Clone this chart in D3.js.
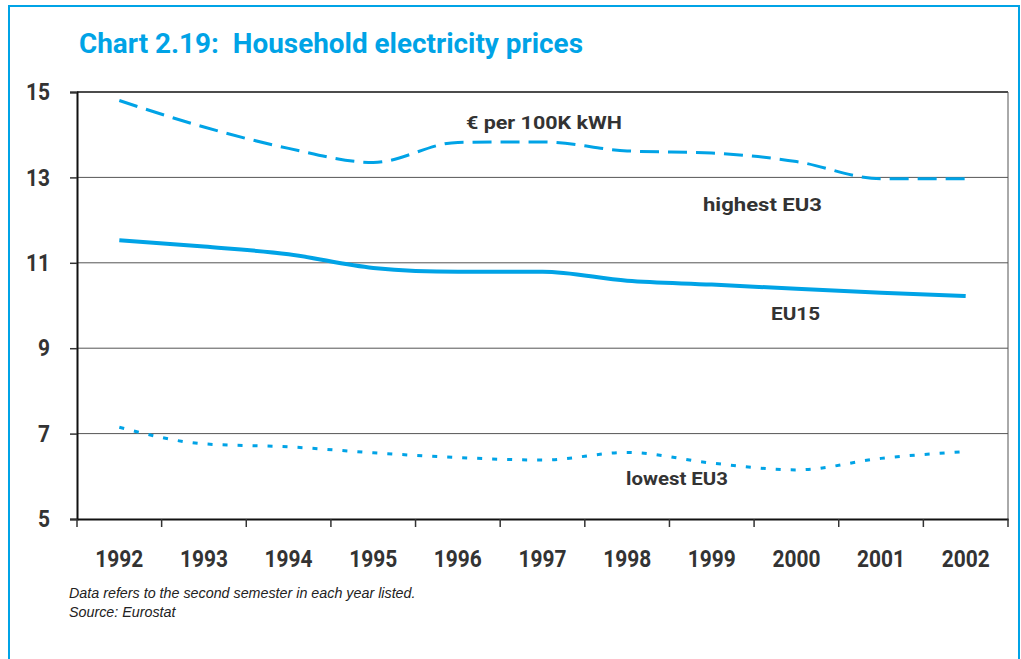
<!DOCTYPE html>
<html>
<head>
<meta charset="utf-8">
<script src="https://cdn.jsdelivr.net/npm/d3@7"></script>
<style>
  body { margin: 0; background: #fff; }
  .cond { font-family: Roboto, "DejaVu Sans Condensed", sans-serif; font-weight: bold; }
</style>
</head>
<body>
<div id="container"></div>
<script>
// chart values
let years = ["1992","1993","1994","1995","1996","1997","1998","1999","2000","2001","2002"];
let highestEU3 = [14.8, 14.18, 13.68, 13.35, 13.82, 13.83, 13.62, 13.57, 13.37, 12.97, 12.97];
let eu15 = [11.53, 11.38, 11.2, 10.88, 10.79, 10.79, 10.58, 10.49, 10.39, 10.3, 10.22];
let lowestEU3 = [7.15, 6.76, 6.69, 6.55, 6.44, 6.38, 6.56, 6.31, 6.15, 6.42, 6.58];
let yTicks = [5, 7, 9, 11, 13, 15];

let svgWidth = 1021, svgHeight = 659;
let blue = "#00a3e6";
let margin = {left: 77, right: 13, top: 92, bottom: 140};

let viz = d3.select("#container")
  .append("svg")
    .attr("width", svgWidth)
    .attr("height", svgHeight);

// outer frame
viz.append("path")
  .attr("d", "M9,700 L9,6 L1019,6 L1019,700")
  .attr("fill", "none")
  .attr("stroke", blue)
  .attr("stroke-width", 2);

viz.append("text")
  .attr("class", "cond")
  .attr("x", 79).attr("y", 53)
  .attr("fill", blue)
  .attr("font-size", 28)
  .attr("textLength", 504).attr("lengthAdjust", "spacingAndGlyphs")
  .attr("xml:space", "preserve")
  .text("Chart 2.19:  Household electricity prices");

let x = d3.scaleBand().domain(years).range([margin.left, svgWidth - margin.right]);
let y = d3.scaleLinear().domain([5, 15]).range([svgHeight - margin.bottom, margin.top]);

// grid lines
viz.append("g").selectAll("line").data(yTicks.filter(d => d > 5 && d < 15)).enter().append("line")
  .attr("x1", margin.left).attr("x2", svgWidth - margin.right)
  .attr("y1", d => y(d)).attr("y2", d => y(d))
  .attr("stroke", "#555").attr("stroke-width", 1);

// top and right border of plot
viz.append("line")
  .attr("x1", margin.left).attr("x2", svgWidth - margin.right)
  .attr("y1", y(15)).attr("y2", y(15))
  .attr("stroke", "#111").attr("stroke-width", 1.5);
viz.append("line")
  .attr("x1", svgWidth - margin.right).attr("x2", svgWidth - margin.right)
  .attr("y1", y(15)).attr("y2", y(5))
  .attr("stroke", "#555").attr("stroke-width", 1);

// y axis
let yAxis = viz.append("g")
  .attr("transform", `translate(${margin.left},0)`)
  .call(d3.axisLeft(y).tickValues(yTicks).tickSize(7).tickPadding(20));
yAxis.select(".domain").attr("stroke", "#111").attr("stroke-width", 2);
yAxis.selectAll(".tick line").attr("stroke", "#333").attr("stroke-width", 1.5);
yAxis.selectAll(".tick text")
  .attr("class", "cond")
  .attr("font-size", 24)
  .attr("textLength", d => String(d).length * 12).attr("lengthAdjust", "spacingAndGlyphs")
  .attr("fill", "#333");

// x axis with ticks on band boundaries
let xAxis = viz.append("g")
  .attr("transform", `translate(0,${y(5)})`)
  .call(d3.axisBottom(x).tickSize(0).tickPadding(31));
xAxis.select(".domain").attr("stroke", "#111").attr("stroke-width", 2);
xAxis.selectAll(".tick text")
  .attr("class", "cond")
  .attr("font-size", 24)
  .attr("textLength", 48).attr("lengthAdjust", "spacingAndGlyphs")
  .attr("fill", "#333");
xAxis.selectAll(".bound").data(years.concat(["end"])).enter().append("line")
  .attr("x1", (d, i) => margin.left + i * x.step())
  .attr("x2", (d, i) => margin.left + i * x.step())
  .attr("y1", 0).attr("y2", 8)
  .attr("stroke", "#333").attr("stroke-width", 1.5);

let line = d3.line()
  .x((d, i) => x(years[i]) + x.bandwidth() / 2)
  .y(d => y(d))
  .curve(d3.curveMonotoneX);

viz.append("path").datum(highestEU3)
  .attr("d", line).attr("fill", "none")
  .attr("stroke", blue).attr("stroke-width", 3)
  .attr("stroke-dasharray", "19,9");

viz.append("path").datum(eu15)
  .attr("d", line).attr("fill", "none")
  .attr("stroke", blue).attr("stroke-width", 4);

viz.append("path").datum(lowestEU3)
  .attr("d", line).attr("fill", "none")
  .attr("stroke", blue).attr("stroke-width", 3)
  .attr("stroke-dasharray", "5,10");

// annotations
let notes = [
  {t: "€ per 100K kWH", x: 466, y: 129, w: 156},
  {t: "highest EU3", x: 703, y: 211, w: 119},
  {t: "EU15", x: 771, y: 320, w: 49},
  {t: "lowest EU3", x: 626, y: 485, w: 102}
];
viz.selectAll(".note").data(notes).enter().append("text")
  .attr("class", "cond")
  .attr("x", d => d.x).attr("y", d => d.y)
  .attr("font-size", 19)
  .attr("textLength", d => d.w).attr("lengthAdjust", "spacingAndGlyphs")
  .attr("fill", "#333")
  .text(d => d.t);

// footnote
let foot = ["Data refers to the second semester in each year listed.", "Source: Eurostat"];
viz.selectAll(".foot").data(foot).enter().append("text")
  .attr("x", 69).attr("y", (d, i) => 598 + i * 19)
  .attr("font-family", "Liberation Sans, Arial, sans-serif")
  .attr("font-style", "italic")
  .attr("font-size", 14.3)
  .attr("fill", "#222")
  .text(d => d);
</script>
</body>
</html>
